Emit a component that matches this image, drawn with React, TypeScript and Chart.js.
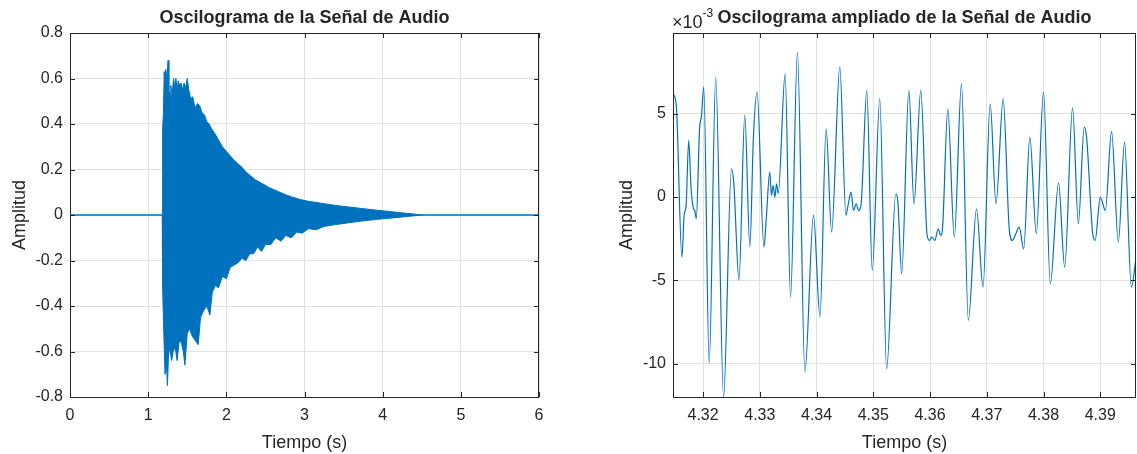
import React, { useEffect, useRef } from 'react';
import { Chart, registerables } from 'chart.js';

Chart.register(...registerables);

const FONT = '"Liberation Sans", Arial, Helvetica, sans-serif';
const TEXT = '#262626';
const BLUE = '#0072BD';
const GRID = '#e2e2e2';

// ---------- Left panel: full signal envelope (upper / lower peaks) ----------
const envUpperTime = [0, 1.18, 1.185, 1.195, 1.205, 1.215, 1.225, 1.24, 1.255, 1.265, 1.28, 1.29, 1.305, 1.325, 1.34, 1.355, 1.37, 1.385, 1.4, 1.42, 1.44, 1.46, 1.48, 1.5, 1.52, 1.545, 1.57, 1.6, 1.63, 1.66, 1.69, 1.72, 1.75, 1.78, 1.81, 1.85, 1.9, 1.95, 2.0, 2.05, 2.1, 2.15, 2.2, 2.25, 2.3, 2.37, 2.45, 2.55, 2.65, 2.75, 2.85, 2.95, 3.05, 3.15, 3.3, 3.45, 3.6, 3.75, 3.9, 4.05, 4.2, 4.35, 4.5, 4.55, 6];
const envUpper = [0, 0, 0.38, 0.45, 0.63, 0.58, 0.64, 0.6, 0.68, 0.55, 0.53, 0.57, 0.52, 0.6, 0.56, 0.6, 0.55, 0.59, 0.57, 0.58, 0.55, 0.58, 0.56, 0.6, 0.55, 0.51, 0.52, 0.47, 0.49, 0.48, 0.45, 0.44, 0.41, 0.4, 0.38, 0.36, 0.33, 0.3, 0.28, 0.26, 0.24, 0.225, 0.21, 0.19, 0.175, 0.155, 0.14, 0.12, 0.105, 0.09, 0.078, 0.068, 0.06, 0.055, 0.047, 0.04, 0.034, 0.028, 0.022, 0.017, 0.011, 0.006, 0.001, 0, 0];

const envLowerTime = [0, 1.18, 1.185, 1.2, 1.215, 1.235, 1.246, 1.26, 1.275, 1.3, 1.32, 1.345, 1.37, 1.395, 1.42, 1.45, 1.47, 1.5, 1.53, 1.56, 1.6, 1.64, 1.67, 1.71, 1.75, 1.79, 1.82, 1.86, 1.9, 1.95, 2.0, 2.05, 2.1, 2.15, 2.2, 2.25, 2.3, 2.35, 2.4, 2.45, 2.5, 2.57, 2.63, 2.7, 2.76, 2.83, 2.9, 2.97, 3.05, 3.15, 3.25, 3.4, 3.55, 3.7, 3.85, 4.0, 4.15, 4.3, 4.45, 4.55, 6];
const envLower = [0, 0, -0.32, -0.52, -0.7, -0.66, -0.75, -0.62, -0.58, -0.64, -0.6, -0.58, -0.64, -0.56, -0.555, -0.6, -0.66, -0.52, -0.5, -0.53, -0.55, -0.57, -0.45, -0.42, -0.4, -0.44, -0.34, -0.31, -0.32, -0.27, -0.28, -0.23, -0.22, -0.21, -0.19, -0.2, -0.17, -0.17, -0.14, -0.16, -0.13, -0.13, -0.1, -0.115, -0.09, -0.1, -0.075, -0.08, -0.06, -0.065, -0.05, -0.042, -0.035, -0.028, -0.022, -0.017, -0.012, -0.007, -0.002, 0, 0];

const leftXTicks = [0, 1, 2, 3, 4, 5, 6];
const leftYTicks = [-0.8, -0.6, -0.4, -0.2, 0, 0.2, 0.4, 0.6, 0.8];

// ---------- Right panel: zoomed waveform (amplitude in units of 1e-3) ----------
const zoomTime = [4.31476, 4.3153, 4.31627, 4.31669, 4.31699, 4.31747, 4.31789, 4.31831, 4.31855, 4.3188, 4.3194, 4.3197, 4.32012, 4.32108, 4.32223, 4.32361, 4.325, 4.32542, 4.32633, 4.32735, 4.32825, 4.32886, 4.32952, 4.33072, 4.33114, 4.33175, 4.33205, 4.33235, 4.33265, 4.33295, 4.33325, 4.33446, 4.33542, 4.33663, 4.33795, 4.33946, 4.3406, 4.34169, 4.34265, 4.3441, 4.34518, 4.3456, 4.34608, 4.34651, 4.34699, 4.34741, 4.34783, 4.34886, 4.34982, 4.35114, 4.35235, 4.35398, 4.35434, 4.355, 4.35627, 4.35717, 4.35837, 4.35946, 4.35988, 4.36036, 4.36084, 4.36145, 4.36187, 4.36217, 4.36313, 4.36428, 4.36554, 4.36675, 4.36819, 4.36934, 4.3706, 4.37163, 4.37289, 4.37398, 4.37452, 4.37512, 4.37572, 4.37651, 4.37759, 4.37873, 4.38, 4.3812, 4.38265, 4.38373, 4.38512, 4.38614, 4.38717, 4.38759, 4.38867, 4.3891, 4.39, 4.3909, 4.39199, 4.39319, 4.39428, 4.39548, 4.39639];
const zoomAmp = [6.2, 5.4, -3.6, -1.0, -0.6, 3.4, 0.5, -0.7, -0.8, -1.3, 4.2, 4.8, 6.6, -10.0, 7.2, -12.0, 1.7, 0.8, -5.0, 4.9, -3.0, 3.5, 6.3, -3.0, -1.3, 1.5, 0.1, 0.7, 0.0, 0.8, 0.2, 7.4, -6.0, 8.7, -10.5, -1.1, -7.2, 4.1, -2.1, 7.8, -1.1, -0.4, 0.3, -0.8, -0.4, -0.8, -0.5, 6.4, -4.4, 5.9, -10.3, 0.2, -0.3, -4.6, 6.4, -0.4, 6.4, -2.2, -2.6, -2.4, -2.6, -1.9, -2.3, -2.0, 5.3, -2.4, 6.8, -7.4, -0.7, -5.4, 5.6, -0.4, 5.9, -2.0, -2.6, -2.2, -1.8, -3.1, 3.6, -2.2, 6.3, -5.2, 0.85, -4.2, 5.35, -1.6, 4.2, 3.6, -2.2, -2.6, 0.0, -0.8, 3.95, -2.7, 3.3, -5.4, -3.4];

const rightXTicks = [4.32, 4.33, 4.34, 4.35, 4.36, 4.37, 4.38, 4.39];
const rightYTicks = [-10, -5, 0, 5];

const leftTitle = 'Oscilograma de la Señal de Audio';
const rightTitle = 'Oscilograma ampliado de la Señal de Audio';
const xLabel = 'Tiempo (s)';
const yLabel = 'Amplitud';

const axesDecor = {
  id: 'axesDecor',
  afterDraw(chart: any, _args: any, opts: any) {
    const { ctx, chartArea: a, scales } = chart;
    ctx.save();
    ctx.strokeStyle = TEXT;
    ctx.lineWidth = 1;
    ctx.beginPath();
    const L = 5;
    scales.x.ticks.forEach((t: any) => {
      const px = Math.round(scales.x.getPixelForValue(t.value)) + 0.5;
      ctx.moveTo(px, a.bottom);
      ctx.lineTo(px, a.bottom - L);
      ctx.moveTo(px, a.top);
      ctx.lineTo(px, a.top + L);
    });
    scales.y.ticks.forEach((t: any) => {
      const py = Math.round(scales.y.getPixelForValue(t.value)) + 0.5;
      ctx.moveTo(a.left, py);
      ctx.lineTo(a.left + L, py);
      ctx.moveTo(a.right, py);
      ctx.lineTo(a.right - L, py);
    });
    ctx.stroke();
    ctx.strokeRect(Math.round(a.left) + 0.5, Math.round(a.top) + 0.5, Math.round(a.right - a.left) - 1, Math.round(a.bottom - a.top));

    ctx.fillStyle = TEXT;
    if (opts.exponent) {
      ctx.font = `18px ${FONT}`;
      ctx.textAlign = 'left';
      ctx.textBaseline = 'alphabetic';
      ctx.fillText('×10', a.left - 1, 28);
      const w = ctx.measureText('×10').width;
      ctx.font = `12px ${FONT}`;
      ctx.fillText('-3', a.left - 1 + w, 17);
    }
    ctx.font = `bold 18px ${FONT}`;
    ctx.textAlign = 'center';
    ctx.textBaseline = 'middle';
    ctx.fillText(opts.title, (a.left + a.right) / 2, 18);
    ctx.restore();
  },
};

function makeConfig(kind: 'left' | 'right'): any {
  const isLeft = kind === 'left';
  const datasets = isLeft
    ? [
        {
          data: envUpperTime.map((t, i) => ({ x: t, y: envUpper[i] })),
          borderColor: BLUE,
          backgroundColor: BLUE,
          borderWidth: 1,
          pointRadius: 0,
          fill: '+1',
        },
        {
          data: envLowerTime.map((t, i) => ({ x: t, y: envLower[i] })),
          borderColor: BLUE,
          backgroundColor: BLUE,
          borderWidth: 1,
          pointRadius: 0,
          fill: false,
        },
      ]
    : [
        {
          data: zoomTime.map((t, i) => ({ x: t, y: zoomAmp[i] })),
          borderColor: BLUE,
          borderWidth: 1.2,
          pointRadius: 0,
          fill: false,
          tension: 0.4,
          cubicInterpolationMode: 'monotone',
        },
      ];
  const xTicks = isLeft ? leftXTicks : rightXTicks;
  const yTicks = isLeft ? leftYTicks : rightYTicks;
  return {
    type: 'line',
    data: { datasets },
    options: {
      animation: false,
      responsive: false,
      events: [],
      layout: { padding: { top: 33, right: isLeft ? 21 : 1, left: 0, bottom: 0 } },
      plugins: {
        legend: { display: false },
        tooltip: { enabled: false },
        title: { display: false },
        axesDecor: { title: isLeft ? leftTitle : rightTitle, exponent: !isLeft },
      },
      scales: {
        x: {
          type: 'linear',
          min: isLeft ? 0 : 4.3147,
          max: isLeft ? 6 : 4.3963,
          afterBuildTicks: (s: any) => {
            s.ticks = xTicks.map((v) => ({ value: v }));
          },
          afterFit: (s: any) => {
            s.height = 57;
          },
          grid: { color: GRID, drawTicks: false, lineWidth: 1 },
          border: { display: false },
          ticks: {
            color: TEXT,
            font: { family: FONT, size: 16 },
            padding: 9,
            maxRotation: 0,
            autoSkip: false,
            callback: (v: any) => (isLeft ? String(v) : Number(v).toFixed(2)),
          },
          title: {
            display: true,
            text: xLabel,
            color: TEXT,
            font: { family: FONT, size: 18 },
            padding: { top: 3, bottom: 0 },
          },
        },
        y: {
          type: 'linear',
          min: isLeft ? -0.8 : -12,
          max: isLeft ? 0.8 : 9.85,
          afterBuildTicks: (s: any) => {
            s.ticks = yTicks.map((v) => ({ value: v }));
          },
          afterFit: (s: any) => {
            s.width = isLeft ? 70 : 113;
          },
          grid: { color: GRID, drawTicks: false, lineWidth: 1 },
          border: { display: false },
          ticks: {
            color: TEXT,
            font: { family: FONT, size: 16 },
            padding: 7,
            autoSkip: false,
            callback: (v: any) => {
              const n = Number(v);
              if (Math.abs(n) < 1e-9) return '0';
              return isLeft ? String(Number(n.toFixed(1))) : String(n);
            },
          },
          title: {
            display: true,
            text: yLabel,
            color: TEXT,
            font: { family: FONT, size: 18 },
            padding: { top: isLeft ? 9 : 56, bottom: 0 },
          },
        },
      },
    },
    plugins: [axesDecor],
  };
}

function Panel({ kind, left, width }: { kind: 'left' | 'right'; left: number; width: number }) {
  const ref = useRef<HTMLCanvasElement | null>(null);
  useEffect(() => {
    if (!ref.current) return;
    const chart = new Chart(ref.current, makeConfig(kind));
    return () => chart.destroy();
  }, [kind]);
  return (
    <div style={{ position: 'absolute', left, top: 0, width, height: 454 }}>
      <canvas ref={ref} width={width} height={454} style={{ width, height: 454, display: 'block' }} />
    </div>
  );
}

export default function App() {
  return (
    <div style={{ position: 'absolute', left: 0, top: 0, width: 1137, height: 454, background: '#fff' }}>
      <Panel kind="left" left={0} width={560} />
      <Panel kind="right" left={560} width={577} />
    </div>
  );
}
